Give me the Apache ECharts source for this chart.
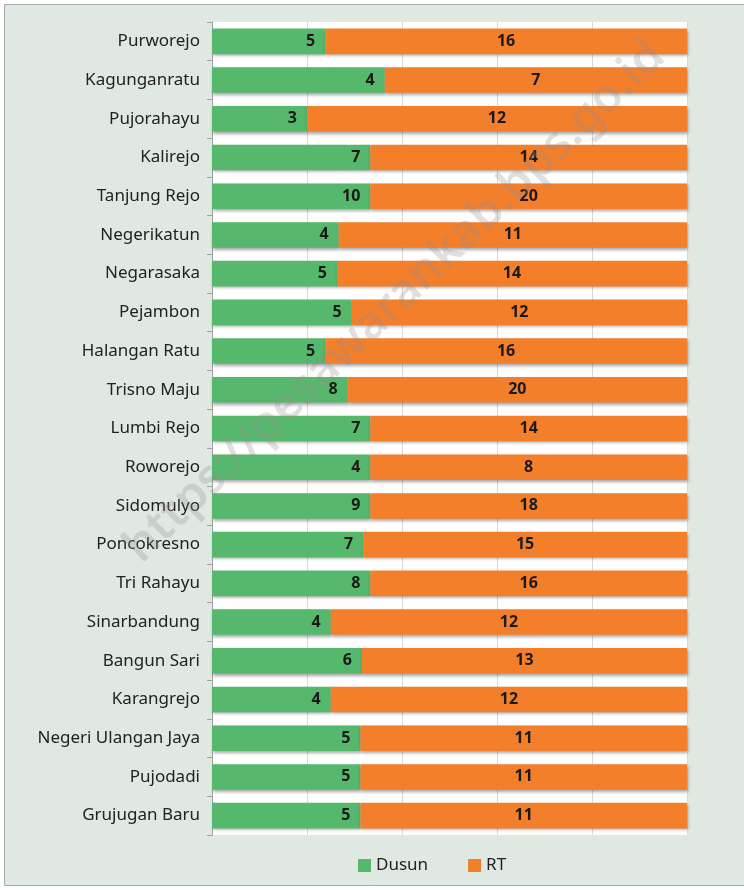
<!DOCTYPE html>
<html>
<head>
<meta charset="utf-8">
<script src="https://cdn.jsdelivr.net/npm/echarts@6/dist/echarts.min.js"></script>
<style>
html,body{margin:0;padding:0;background:#fff;}
#c{width:744px;height:890px;}
</style>
</head>
<body>
<div id="c"></div>
<script>
var categories = ["Purworejo","Kagunganratu","Pujorahayu","Kalirejo","Tanjung Rejo","Negerikatun","Negarasaka","Pejambon","Halangan Ratu","Trisno Maju","Lumbi Rejo","Roworejo","Sidomulyo","Poncokresno","Tri Rahayu","Sinarbandung","Bangun Sari","Karangrejo","Negeri Ulangan Jaya","Pujodadi","Grujugan Baru"];
var dusun = [5,4,3,7,10,4,5,5,5,8,7,4,9,7,8,4,6,4,5,5,5];
var rt = [16,7,12,14,20,11,14,12,16,20,14,8,18,15,16,12,13,12,11,11,11];
var seriesNames = ["Dusun","RT"];

function pct(a, i){ return a[i] / (dusun[i] + rt[i]) * 100; }
var dusunPct = dusun.map(function(v,i){ return {value: pct(dusun,i), raw: v}; });
var rtPct = rt.map(function(v,i){ return {value: pct(rt,i), raw: v}; });

var chart = echarts.init(document.getElementById('c'));
var font = 'Noto Sans';
var barShadow = {shadowBlur: 3, shadowOffsetX: 1, shadowOffsetY: 2, shadowColor: 'rgba(0,0,0,0.35)'};
chart.setOption({
  backgroundColor: '#ffffff',
  animation: false,
  textStyle: {fontFamily: font},
  graphic: [
    {type: 'rect', z: -10, shape: {x: 4.5, y: 4.5, width: 745, height: 881}, style: {fill: '#dfe9e1', stroke: '#a8a8a8', lineWidth: 1}},
    {type: 'rect', z: -9, shape: {x: 212, y: 22, width: 475, height: 813}, style: {fill: '#ffffff'}},
    {type: 'text', z: 100, x: 395, y: 302, rotation: Math.PI / 4.1,
     style: {text: 'https://pesawarankab.bps.go.id', fill: 'rgba(150,140,140,0.28)', font: '600 47px "Noto Sans"', textAlign: 'center', textVerticalAlign: 'middle'}}
  ],
  grid: {left: 212, right: 57, top: 22, bottom: 55, containLabel: false},
  legend: {
    data: seriesNames, bottom: 11, left: 353, icon: 'rect', itemWidth: 13, itemHeight: 13, itemGap: 40,
    textStyle: {fontSize: 17, color: '#222', fontFamily: font}
  },
  xAxis: {
    type: 'value', min: 0, max: 100, interval: 20,
    axisLabel: {show: false}, axisLine: {show: false}, axisTick: {show: false},
    splitLine: {lineStyle: {color: '#d9d9d9', width: 1}}
  },
  yAxis: {
    type: 'category', data: categories, inverse: true,
    axisLine: {lineStyle: {color: '#a0a0a0'}},
    axisTick: {show: true, length: 5, lineStyle: {color: '#a0a0a0'}},
    axisLabel: {fontSize: 17, color: '#222', margin: 12, fontFamily: font}
  },
  series: [
    {name: 'Dusun', type: 'bar', stack: 't', data: dusunPct, barCategoryGap: '34%',
     itemStyle: Object.assign({color: '#55b86d'}, barShadow),
     label: {show: true, position: 'insideRight', distance: 10, fontSize: 16, fontWeight: 'bold', color: '#1a1a1a', fontFamily: font,
       formatter: function(p){ return p.data.raw; }}},
    {name: 'RT', type: 'bar', stack: 't', data: rtPct,
     itemStyle: Object.assign({color: '#f47f2b'}, barShadow),
     label: {show: true, position: 'inside', fontSize: 16, fontWeight: 'bold', color: '#1a1a1a', fontFamily: font,
       formatter: function(p){ return p.data.raw; }}}
  ]
});
</script>
</body>
</html>
